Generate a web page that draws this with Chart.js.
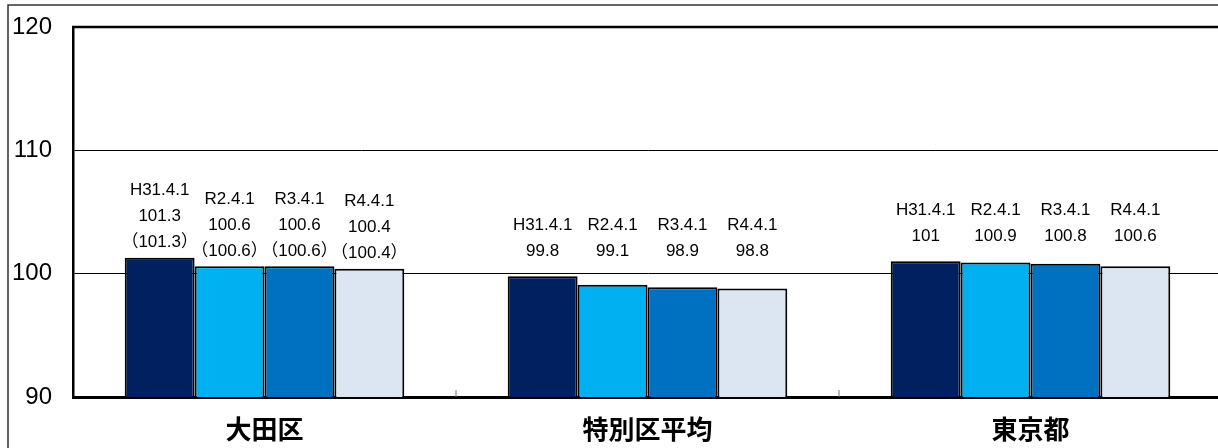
<!DOCTYPE html>
<html>
<head>
<meta charset="utf-8">
<script src="https://cdn.jsdelivr.net/npm/chart.js@4"></script>
<style>
  html, body { margin: 0; padding: 0; background: #fff; overflow: hidden; }
  #wrap { position: relative; width: 1230px; height: 448px; }
</style>
</head>
<body>
<div id="wrap"><canvas id="myChart"></canvas></div>
<script>
// 区分
const categories = ['大田区', '特別区平均', '東京都']
// 時点
const seriesNames = ['H31.4.1', 'R2.4.1', 'R3.4.1', 'R4.4.1']
// 各時点の値（大田区, 特別区平均, 東京都）
const valuesH31 = [101.3, 99.8, 101]
const valuesR2 = [100.6, 99.1, 100.9]
const valuesR3 = [100.6, 98.9, 100.8]
const valuesR4 = [100.4, 98.8, 100.6]
// かっこ書きの値（大田区のみ）
const parenValues = [[101.3, null, null], [100.6, null, null], [100.6, null, null], [100.4, null, null]]
// 目盛
const yTicks = [90, 100, 110, 120]

const colors = ['#00205F', '#00B0F0', '#0070C0', '#DCE6F2']
const allValues = [valuesH31, valuesR2, valuesR3, valuesR4]

const datasets = seriesNames.map((name, i) => ({
    label: name,
    data: allValues[i],
    backgroundColor: colors[i],
    borderColor: '#000',
    borderWidth: 2,
    borderSkipped: false,
    barPercentage: 1.0,
    categoryPercentage: 0.73
}))

// 外枠・上辺・目盛線・ラベル
const decor = {
    id: 'decor',
    beforeDraw(chart) {
        const c = chart.ctx
        c.save()
        c.strokeStyle = '#333'
        c.lineWidth = 1.5
        c.beginPath()
        c.moveTo(8, 448)
        c.lineTo(8, 5)
        c.lineTo(1230, 5)
        c.stroke()
        c.restore()
    },
    afterDatasetsDraw(chart) {
        const c = chart.ctx
        const area = chart.chartArea
        const x = chart.scales.x
        c.save()
        // 上辺
        c.strokeStyle = '#000'
        c.lineWidth = 2.5
        c.beginPath()
        c.moveTo(area.left - 1, area.top)
        c.lineTo(area.right + 5, area.top)
        c.stroke()
        // 区分の境目
        c.strokeStyle = '#777'
        c.lineWidth = 1
        for (let i = 0; i < categories.length - 1; i++) {
            const px = (x.getPixelForValue(i) + x.getPixelForValue(i + 1)) / 2
            c.beginPath()
            c.moveTo(px, area.bottom)
            c.lineTo(px, area.bottom - 7)
            c.stroke()
        }
        // 値ラベル
        c.fillStyle = '#000'
        c.textAlign = 'center'
        c.textBaseline = 'middle'
        c.font = '17px "Liberation Sans", "Noto Sans CJK JP", sans-serif'
        const metas = chart.data.datasets.map((ds, di) => chart.getDatasetMeta(di))
        chart.data.datasets.forEach((ds, di) => {
            metas[di].data.forEach((el, j) => {
                const lines = [ds.label, String(ds.data[j])]
                const p = parenValues[di][j]
                let y
                if (p !== null) {
                    lines.push('（' + p + '）')
                    y = el.y - 15
                } else {
                    const groupTop = Math.min(...metas.map(m => m.data[j].y))
                    y = groupTop - 25
                }
                for (let k = lines.length - 1; k >= 0; k--) {
                    c.fillText(lines[k], el.x, y)
                    y -= 26
                }
            })
        })
        c.restore()
    }
}

const ctx = document.getElementById('myChart')

new Chart(ctx, {
    type: 'bar',
    data: { labels: categories, datasets },
    options: {
        responsive: true,
        maintainAspectRatio: false,
        animation: false,
        layout: { padding: { top: 27, left: 0, right: 8, bottom: 0 } },
        plugins: { legend: { display: false }, tooltip: { enabled: false } },
        scales: {
            x: {
                grid: { display: false },
                border: { color: '#000', width: 3 },
                ticks: {
                    color: '#000',
                    padding: 9,
                    font: { family: '"Noto Sans CJK JP"', size: 26, weight: 'bold' }
                },
                afterFit(scale) { scale.height = 51 }
            },
            y: {
                min: 90,
                max: 120,
                afterBuildTicks(scale) { scale.ticks = yTicks.map(v => ({ value: v })) },
                grid: { color: '#000', lineWidth: 1, drawTicks: false },
                border: { color: '#000', width: 2.5 },
                ticks: {
                    color: '#000',
                    padding: 21,
                    font: { family: '"Liberation Sans", Arial, sans-serif', size: 24 }
                },
                afterFit(scale) {
                    scale.width = 73
                    scale.paddingTop = 0
                    scale.paddingBottom = 0
                }
            }
        }
    },
    plugins: [decor]
})
</script>
</body>
</html>
